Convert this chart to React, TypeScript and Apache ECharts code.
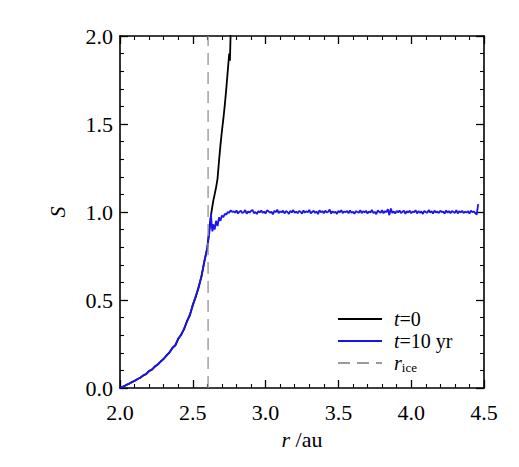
import React, { useEffect, useRef } from "react";
import * as echarts from "echarts";

// radius grid of the rising part (au)
const rRise = [2.00, 2.02, 2.04, 2.06, 2.08, 2.10, 2.12, 2.14, 2.16, 2.18, 2.20, 2.22, 2.24, 2.26, 2.28, 2.30, 2.32, 2.34, 2.36, 2.38, 2.40, 2.42, 2.44, 2.46, 2.48, 2.50, 2.52, 2.54, 2.56, 2.58, 2.60];
const blackRiseS = [0.000, 0.007, 0.016, 0.023, 0.033, 0.040, 0.051, 0.058, 0.072, 0.079, 0.097, 0.104, 0.123, 0.133, 0.152, 0.165, 0.186, 0.201, 0.229, 0.241, 0.278, 0.304, 0.333, 0.381, 0.412, 0.474, 0.516, 0.575, 0.633, 0.725, 0.795];
const blueRiseS = [0.000, 0.008, 0.015, 0.024, 0.032, 0.041, 0.050, 0.060, 0.071, 0.081, 0.095, 0.106, 0.121, 0.135, 0.150, 0.167, 0.184, 0.204, 0.226, 0.245, 0.282, 0.300, 0.338, 0.376, 0.418, 0.468, 0.522, 0.568, 0.640, 0.718, 0.800];

// t=0 beyond 2.6 au
const rBlackTail = [2.61, 2.62, 2.63, 2.64, 2.65, 2.66, 2.67, 2.68, 2.69, 2.70, 2.71, 2.72, 2.73, 2.74, 2.75, 2.755, 2.76, 2.77];
const sBlackTail = [0.88, 0.95, 1.01, 1.06, 1.10, 1.14, 1.19, 1.29, 1.38, 1.46, 1.53, 1.61, 1.70, 1.80, 1.90, 1.86, 2.02, 2.15];

// t=10 yr transition
const rBlueMid = [2.61, 2.62, 2.625, 2.63, 2.635, 2.64, 2.65, 2.66, 2.67, 2.68, 2.69, 2.70, 2.71, 2.72, 2.73, 2.74, 2.75, 2.76, 2.77];
const sBlueMid = [0.86, 0.93, 0.99, 0.92, 0.89, 0.93, 0.90, 0.95, 0.92, 0.97, 0.95, 0.98, 0.97, 0.99, 0.985, 1.00, 0.995, 1.01, 1.00];

// t=10 yr plateau, sampled every 0.01 au from 2.78 au to 4.46 au
const plateauStart = 2.78;
const plateauStep = 0.01;
const sBluePlateau = [
  1.004, 0.996, 1.009, 0.991, 1.002, 1.007, 0.994, 0.999, 1.011, 0.990,
  1.003, 0.997, 1.006, 1.012, 0.993, 1.000, 0.988, 1.005, 0.998, 1.008,
  0.995, 1.002, 0.991, 1.010, 1.004, 0.996, 1.001, 0.987, 1.006, 0.999,
  1.013, 0.994, 1.003, 0.998, 1.008, 0.992, 1.005, 1.000, 0.989, 1.007,
  0.997, 1.011, 0.995, 1.002, 0.993, 1.006, 1.001, 0.990, 1.009, 0.996,
  1.004, 0.998, 1.012, 0.992, 1.000, 1.007, 0.995, 1.003, 0.988, 1.010,
  0.999, 1.005, 0.993, 1.008, 0.997, 1.002, 1.014, 0.991, 1.004, 0.996,
  1.001, 0.989, 1.007, 0.998, 1.010, 0.994, 1.003, 0.999, 1.006, 0.992,
  1.009, 0.995, 1.002, 0.990, 1.005, 1.000, 0.996, 1.011, 0.993, 1.004,
  0.998, 1.007, 0.991, 1.003, 0.997, 1.012, 0.994, 1.001, 0.987, 1.008,
  1.002, 0.996, 1.010, 0.993, 1.005, 0.999, 1.016, 0.982, 1.020, 0.995,
  1.003, 0.991, 1.006, 0.998, 1.009, 0.994, 1.001, 1.007, 0.990, 1.004,
  0.997, 1.008, 0.993, 1.002, 0.999, 1.010, 0.992, 1.005, 0.996, 1.003,
  0.989, 1.006, 1.000, 0.995, 1.011, 0.997, 1.004, 0.991, 1.008, 0.998,
  1.002, 0.994, 1.007, 0.999, 1.003, 0.990, 1.009, 0.996, 1.005, 0.993,
  1.006, 1.000, 0.995, 1.010, 0.992, 1.004, 0.998, 1.007, 0.994, 1.002,
  0.997, 1.005, 0.991, 1.008, 0.999, 1.003, 0.994, 0.985, 1.045,
];

const rIce = 2.605;
const iceS = [0, 2];

const xTicks = [2.0, 2.5, 3.0, 3.5, 4.0, 4.5];
const yTicks = [0.0, 0.5, 1.0, 1.5, 2.0];
const yTitle = "S";

const FONT = "Liberation Serif";
const FS = 22;
const LFS = 20;
const BLUE = "#1a14f0";

export default function App() {
  const ref = useRef<HTMLDivElement>(null);
  useEffect(() => {
    if (!ref.current) return;
    const chart = echarts.init(ref.current, null, { renderer: "svg" });

    const black: number[][] = rRise.map((r, i) => [r, blackRiseS[i]]);
    rBlackTail.forEach((r, i) => black.push([r, sBlackTail[i]]));
    const blue: number[][] = rRise.map((r, i) => [r, blueRiseS[i]]);
    rBlueMid.forEach((r, i) => blue.push([r, sBlueMid[i]]));
    sBluePlateau.forEach((s, i) => blue.push([+(plateauStart + i * plateauStep).toFixed(3), s]));
    const ice = iceS.map((s) => [rIce, s]);

    const n = { fontFamily: FONT, fontSize: FS, color: "#000", fontStyle: "normal" };
    const it = { fontFamily: FONT, fontSize: FS, color: "#000", fontStyle: "italic" };

    const axisCommon = {
      axisLine: { show: true, onZero: false, lineStyle: { color: "#000", width: 1.6 } },
      axisTick: { show: true, inside: true, length: 8, lineStyle: { color: "#000", width: 1.3 } },
      minorTick: { show: true, splitNumber: 5, length: 4, lineStyle: { color: "#000", width: 1.1 } },
      splitLine: { show: false },
      minorSplitLine: { show: false },
    };

    chart.setOption({
      animation: false,
      textStyle: { fontFamily: FONT },
      grid: { left: 120, right: 35, top: 36, bottom: 79, containLabel: false },
      graphic: [
        {
          type: "text", x: 57, y: 212, rotation: Math.PI / 2,
          style: { text: yTitle, fontFamily: FONT, fontSize: FS, fontStyle: "italic", fill: "#000", align: "center", verticalAlign: "middle" },
        },
      ],
      xAxis: [
        {
          type: "value", min: xTicks[0], max: xTicks[xTicks.length - 1], interval: 0.5, position: "bottom",
          ...axisCommon,
          axisLabel: { show: true, margin: 13, ...n, rich: { n }, formatter: (v: number) => `{n|${v.toFixed(1)}}` },
          name: "{i|r}{n| /au}", nameLocation: "middle", nameGap: 40,
          nameTextStyle: { ...n, rich: { i: it, n } },
        },
        {
          type: "value", min: xTicks[0], max: xTicks[xTicks.length - 1], interval: 0.5, position: "top",
          ...axisCommon, axisLabel: { show: false },
        },
      ],
      yAxis: [
        {
          type: "value", min: yTicks[0], max: yTicks[yTicks.length - 1], interval: 0.5, position: "left",
          ...axisCommon,
          axisLabel: { show: true, margin: 7, ...n, rich: { n }, formatter: (v: number) => `{n|${v.toFixed(1)}}` },
        },
        {
          type: "value", min: yTicks[0], max: yTicks[yTicks.length - 1], interval: 0.5, position: "right",
          ...axisCommon, axisLabel: { show: false },
        },
      ],
      legend: {
        orient: "vertical", left: 337, top: 308, padding: 0, itemWidth: 44, itemHeight: 14, itemGap: 0,
        itemStyle: { opacity: 0 },
        data: ["t0", "t10", "rice"],
        formatter: (name: string) => (name === "t0" ? "{i|t}{n|=0}" : name === "t10" ? "{i|t}{n|=10 yr}" : "{i|r}{s|ice}"),
        textStyle: {
          fontFamily: FONT, fontSize: LFS, color: "#000", lineHeight: 22, padding: [0, 0, 0, 7],
          rich: {
            i: { fontFamily: FONT, fontSize: LFS, fontStyle: "italic", color: "#000", lineHeight: 22 },
            n: { fontFamily: FONT, fontSize: LFS, color: "#000", lineHeight: 22 },
            s: { fontFamily: FONT, fontSize: 13, lineHeight: 13, color: "#000", verticalAlign: "bottom" },
          },
        },
      },
      series: [
        { name: "t0", type: "line", data: black, symbol: "none", clip: true, lineStyle: { color: "#000", width: 1.8 }, itemStyle: { color: "#000" } },
        { name: "t10", type: "line", data: blue, symbol: "none", clip: true, lineStyle: { color: BLUE, width: 1.8 }, itemStyle: { color: BLUE } },
        { name: "rice", type: "line", data: ice, symbol: "none", clip: true, lineStyle: { color: "#9a9a9a", width: 1.4, type: [12, 7] }, itemStyle: { color: "#9a9a9a" } },
      ],
    });
    return () => chart.dispose();
  }, []);
  return <div ref={ref} style={{ position: "fixed", left: 0, top: 0, width: 519, height: 467, background: "#fff" }} />;
}
